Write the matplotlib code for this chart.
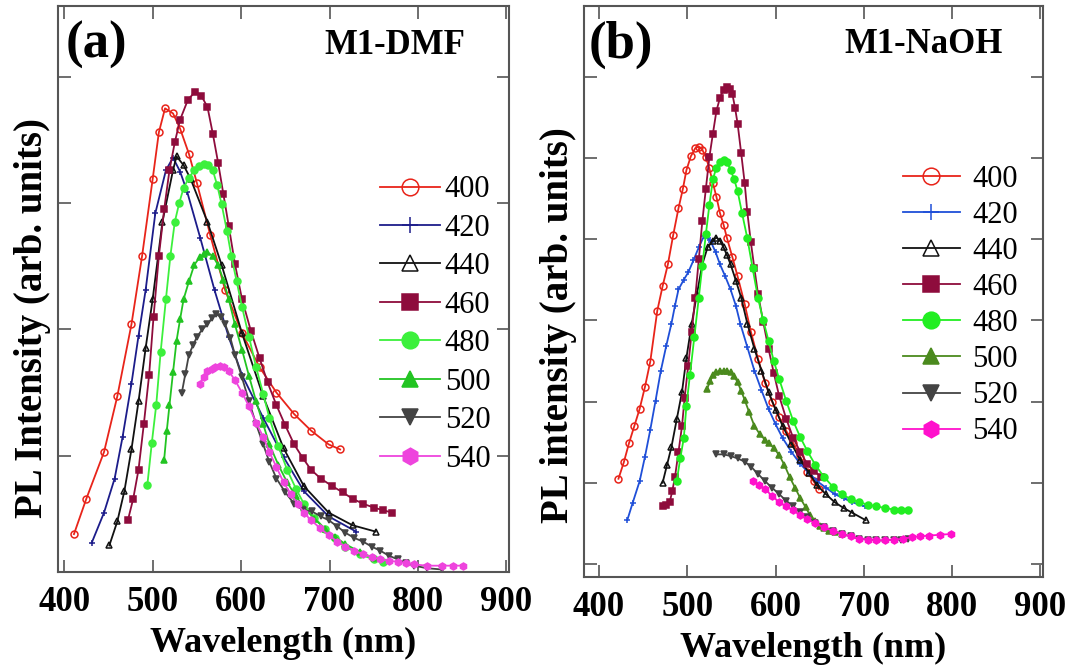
import matplotlib
matplotlib.use("Agg")
import matplotlib.pyplot as plt

plt.rcParams['font.family'] = ['Liberation Serif', 'DejaVu Serif']

# excitation wavelengths (legend labels)
labels = ['400', '420', '440', '460', '480', '500', '520', '540']

# ---- panel (a) M1-DMF ----
a_400_x = [411, 425, 445, 460, 476, 488, 500, 507, 514, 523, 531, 541, 550, 565, 582, 601, 621, 640, 660, 679, 699, 712]
a_400_y = [0.38, 0.66, 1.03, 1.47, 2.04, 2.58, 3.19, 3.56, 3.75, 3.71, 3.59, 3.39, 3.16, 2.75, 2.31, 1.97, 1.70, 1.50, 1.33, 1.20, 1.09, 1.05]
a_420_x = [431, 445, 457, 466, 476, 484, 492, 503, 515, 523, 531, 539, 554, 570, 586, 601, 625, 648, 671, 699, 730]
a_420_y = [0.31, 0.55, 0.82, 1.15, 1.57, 1.95, 2.31, 2.92, 3.26, 3.36, 3.25, 3.09, 2.72, 2.31, 1.94, 1.64, 1.30, 0.99, 0.72, 0.52, 0.40]
a_440_x = [451, 460, 468, 476, 484, 492, 500, 511, 523, 527, 535, 543, 562, 578, 601, 625, 648, 671, 699, 726, 752]
a_440_y = [0.29, 0.48, 0.72, 1.05, 1.43, 1.85, 2.24, 2.85, 3.26, 3.37, 3.30, 3.19, 2.85, 2.51, 1.97, 1.47, 1.06, 0.76, 0.55, 0.45, 0.40]
a_460_x = [472, 478, 484, 490, 496, 501, 507, 513, 519, 525, 531, 540, 548, 555, 562, 568, 574, 580, 586, 593, 601, 611, 621, 630, 640, 650, 660, 670, 679, 690, 703, 715, 726, 738, 750, 760, 771]
a_460_y = [0.49, 0.66, 0.89, 1.25, 1.64, 2.10, 2.58, 2.95, 3.26, 3.48, 3.66, 3.82, 3.88, 3.85, 3.76, 3.55, 3.32, 3.07, 2.82, 2.52, 2.24, 1.99, 1.77, 1.58, 1.40, 1.24, 1.09, 0.98, 0.89, 0.82, 0.76, 0.71, 0.66, 0.62, 0.59, 0.57, 0.55]
a_480_x = [494, 499, 504, 509, 515, 520, 525, 530, 535, 541, 547, 552, 558, 563, 568, 573, 578, 584, 589, 595, 601, 609, 617, 625, 632, 642, 652, 662, 671, 683, 695, 706, 718, 734, 750, 760]
a_480_y = [0.77, 1.10, 1.40, 1.82, 2.24, 2.58, 2.85, 3.00, 3.12, 3.20, 3.26, 3.29, 3.31, 3.30, 3.26, 3.14, 2.99, 2.78, 2.58, 2.38, 2.18, 1.94, 1.70, 1.49, 1.30, 1.08, 0.89, 0.74, 0.62, 0.51, 0.42, 0.35, 0.28, 0.22, 0.18, 0.16]
a_500_x = [513, 516, 519, 523, 527, 531, 535, 541, 547, 553, 558, 562, 568, 574, 580, 586, 593, 601, 609, 617, 625, 632, 642, 652, 662, 671, 683, 695, 706, 718, 734, 750]
a_500_y = [0.97, 1.20, 1.40, 1.66, 1.91, 2.08, 2.24, 2.38, 2.51, 2.57, 2.60, 2.61, 2.58, 2.51, 2.39, 2.24, 2.04, 1.84, 1.63, 1.43, 1.25, 1.09, 0.93, 0.79, 0.68, 0.59, 0.50, 0.42, 0.36, 0.30, 0.24, 0.19]
a_520_x = [533, 537, 541, 546, 550, 556, 562, 567, 572, 577, 582, 588, 593, 601, 609, 617, 625, 632, 640, 650, 660, 670, 680, 690, 699, 709, 718, 728, 738, 748, 757, 767, 777, 786, 796, 810, 827]
a_520_y = [1.50, 1.65, 1.80, 1.88, 1.94, 2.00, 2.04, 2.09, 2.12, 2.10, 2.04, 1.93, 1.80, 1.62, 1.43, 1.25, 1.09, 0.95, 0.82, 0.71, 0.62, 0.57, 0.56, 0.52, 0.49, 0.44, 0.39, 0.35, 0.32, 0.28, 0.25, 0.21, 0.18, 0.15, 0.13, 0.11, 0.10]
a_540_x = [553, 558, 562, 567, 571, 576, 581, 586, 593, 601, 609, 617, 625, 632, 640, 648, 656, 664, 671, 679, 689, 699, 709, 718, 728, 738, 748, 757, 767, 777, 786, 796, 810, 827, 840, 851]
a_540_y = [1.57, 1.62, 1.67, 1.69, 1.70, 1.71, 1.70, 1.67, 1.60, 1.50, 1.39, 1.26, 1.15, 1.03, 0.91, 0.79, 0.70, 0.62, 0.55, 0.49, 0.43, 0.37, 0.32, 0.28, 0.25, 0.22, 0.20, 0.18, 0.17, 0.16, 0.15, 0.14, 0.13, 0.13, 0.13, 0.13]

# ---- panel (b) M1-NaOH ----
b_400_x = [422, 428, 434, 440, 446, 452, 458, 466, 472, 478, 484, 490, 495, 499, 504, 509, 513, 517, 521, 525, 529, 533, 537, 541, 545, 551, 557, 565, 572, 580, 588, 596, 604, 612, 620, 628, 636, 643, 649]
b_400_y = [1.05, 1.25, 1.49, 1.70, 1.91, 2.18, 2.49, 3.12, 3.42, 3.69, 4.05, 4.38, 4.62, 4.85, 5.02, 5.12, 5.14, 5.10, 5.01, 4.87, 4.69, 4.52, 4.32, 4.18, 4.01, 3.78, 3.54, 3.20, 2.86, 2.53, 2.23, 2.00, 1.81, 1.64, 1.49, 1.32, 1.13, 1.02, 0.92]
b_420_x = [432, 438, 446, 452, 458, 464, 470, 476, 482, 486, 490, 496, 501, 507, 513, 519, 523, 527, 532, 537, 543, 549, 555, 560, 568, 576, 584, 592, 600, 608, 618, 628, 638, 647, 657, 667, 677, 687, 701]
b_420_y = [0.54, 0.75, 1.02, 1.32, 1.65, 2.01, 2.38, 2.68, 2.96, 3.18, 3.38, 3.50, 3.59, 3.74, 3.90, 4.04, 4.02, 3.96, 3.84, 3.69, 3.54, 3.38, 3.18, 2.96, 2.67, 2.38, 2.14, 1.91, 1.72, 1.55, 1.38, 1.23, 1.12, 1.02, 0.94, 0.86, 0.81, 0.76, 0.71]
b_440_x = [472, 477, 482, 488, 494, 499, 505, 511, 517, 523, 529, 533, 537, 541, 545, 549, 555, 561, 568, 576, 584, 592, 600, 608, 618, 628, 638, 647, 657, 667, 677, 687, 702]
b_440_y = [1.00, 1.22, 1.44, 1.78, 2.12, 2.54, 2.96, 3.33, 3.69, 3.90, 3.98, 4.02, 3.98, 3.90, 3.80, 3.69, 3.49, 3.28, 2.96, 2.65, 2.38, 2.12, 1.90, 1.70, 1.48, 1.28, 1.12, 0.97, 0.86, 0.76, 0.69, 0.63, 0.54]
b_460_x = [472, 476, 480, 483, 486, 490, 494, 497, 501, 505, 509, 513, 517, 521, 525, 529, 533, 537, 541, 545, 548, 551, 554, 557, 561, 565, 568, 572, 576, 580, 586, 592, 598, 604, 612, 620, 628, 636, 644, 652]
b_460_y = [0.71, 0.73, 0.76, 0.90, 1.07, 1.38, 1.70, 2.05, 2.44, 2.86, 3.28, 3.75, 4.22, 4.62, 5.01, 5.30, 5.58, 5.74, 5.84, 5.87, 5.85, 5.79, 5.62, 5.42, 5.06, 4.69, 4.33, 3.96, 3.64, 3.33, 2.98, 2.65, 2.35, 2.07, 1.79, 1.55, 1.38, 1.23, 1.14, 1.07]
b_480_x = [488, 492, 496, 499, 503, 508, 513, 517, 521, 525, 529, 533, 537, 541, 545, 549, 553, 557, 562, 568, 574, 580, 586, 592, 598, 604, 612, 620, 628, 636, 645, 655, 665, 675, 685, 695, 705, 714, 724, 734, 742, 750]
b_480_y = [1.02, 1.30, 1.55, 1.95, 2.33, 2.80, 3.28, 3.67, 4.06, 4.42, 4.74, 4.88, 4.95, 4.98, 4.95, 4.85, 4.74, 4.59, 4.32, 4.01, 3.64, 3.28, 3.00, 2.75, 2.50, 2.28, 2.01, 1.76, 1.56, 1.39, 1.22, 1.07, 0.95, 0.86, 0.80, 0.76, 0.73, 0.71, 0.69, 0.67, 0.66, 0.66]
b_500_x = [522, 526, 529, 533, 537, 541, 545, 549, 553, 557, 561, 565, 570, 576, 582, 588, 592, 598, 604, 610, 616, 622, 628, 634, 639, 645, 650, 655, 661, 667, 675]
b_500_y = [2.15, 2.25, 2.33, 2.36, 2.38, 2.38, 2.38, 2.36, 2.31, 2.24, 2.13, 2.02, 1.87, 1.70, 1.60, 1.53, 1.49, 1.43, 1.34, 1.22, 1.07, 0.94, 0.81, 0.70, 0.60, 0.53, 0.47, 0.44, 0.41, 0.39, 0.37]
b_520_x = [533, 541, 549, 557, 565, 572, 580, 588, 596, 604, 612, 620, 628, 636, 645, 655, 665, 675, 685, 695, 705, 714, 724, 734, 742, 750]
b_520_y = [1.35, 1.35, 1.33, 1.30, 1.26, 1.20, 1.11, 1.02, 0.94, 0.86, 0.78, 0.71, 0.64, 0.58, 0.51, 0.45, 0.41, 0.37, 0.34, 0.31, 0.30, 0.29, 0.29, 0.30, 0.30, 0.31]
b_540_x = [574, 581, 588, 596, 604, 612, 620, 628, 636, 645, 655, 665, 675, 685, 695, 705, 714, 724, 734, 744, 754, 764, 774, 786, 799]
b_540_y = [1.02, 0.97, 0.92, 0.84, 0.76, 0.71, 0.66, 0.60, 0.55, 0.50, 0.45, 0.41, 0.37, 0.34, 0.31, 0.30, 0.29, 0.29, 0.30, 0.31, 0.33, 0.34, 0.35, 0.36, 0.37]

data_a = [(a_400_x, a_400_y), (a_420_x, a_420_y), (a_440_x, a_440_y), (a_460_x, a_460_y),
          (a_480_x, a_480_y), (a_500_x, a_500_y), (a_520_x, a_520_y), (a_540_x, a_540_y)]
data_b = [(b_400_x, b_400_y), (b_420_x, b_420_y), (b_440_x, b_440_y), (b_460_x, b_460_y),
          (b_480_x, b_480_y), (b_500_x, b_500_y), (b_520_x, b_520_y), (b_540_x, b_540_y)]

markers = ['o', '+', '^', 's', 'o', '^', 'v', 'h']
filled = [False, True, False, True, True, True, True, True]
colors_a = ['#e8241a', '#1c1c8a', '#111111', '#8e0c3c', '#3cf03c', '#22c422', '#444444', '#ee44dd']
colors_b = ['#e8241a', '#1f4fd8', '#111111', '#8e0c3c', '#22ee22', '#4b8a1e', '#444444', '#ff10cc']

fig = plt.figure(figsize=(10.73, 6.69), dpi=100)
ax_a = fig.add_axes([0.0541, 0.145, 0.4203, 0.846])
ax_b = fig.add_axes([0.5443, 0.1375, 0.4278, 0.8535])


def draw(ax, data, colors):
    for (x, y), lab, m, f, c in zip(data, labels, markers, filled, colors):
        fc = c if f else 'none'
        ax.plot(x, y, color=c, lw=1.3, marker=m, ms=5, mfc=fc, mec=c, mew=1.1, label=lab)


draw(ax_a, data_a, colors_a)
draw(ax_b, data_b, colors_b)

ax_a.set_xlim(393, 903)
ax_a.set_ylim(0.08, 4.56)
ax_a.set_yticks([1, 2, 3, 4])
ax_b.set_xlim(383, 903)
ax_b.set_ylim(-0.16, 6.87)
ax_b.set_yticks([0, 1, 2, 3, 4, 5, 6])

for ax in (ax_a, ax_b):
    ax.set_xticks([400, 500, 600, 700, 800, 900])
    ax.tick_params(direction='in', top=True, right=True, length=9, width=1.2,
                   color='#555555', labelsize=25, pad=10)
    ax.set_yticklabels([])
    for lbl in ax.get_xticklabels():
        lbl.set_fontweight('bold')
    for s in ax.spines.values():
        s.set_color('#555555')
        s.set_linewidth(1.5)
    ax.set_xlabel('Wavelength (nm)', fontsize=26, fontweight='bold', labelpad=6)

ax_a.set_ylabel('PL Intensity (arb. units)', fontsize=28, fontweight='bold')
ax_b.set_ylabel('PL intensity (arb. units)', fontsize=28, fontweight='bold')
ax_a.yaxis.set_label_coords(-0.016, 0.449)
ax_b.yaxis.set_label_coords(-0.015, 0.441)

ax_a.text(0.086, 0.931, '(a)', transform=ax_a.transAxes, ha='center', va='center',
          fontsize=38, fontweight='bold')
ax_a.text(0.747, 0.931, 'M1-DMF', transform=ax_a.transAxes, ha='center', va='center',
          fontsize=25, fontweight='bold')
ax_b.text(0.081, 0.932, '(b)', transform=ax_b.transAxes, ha='center', va='center',
          fontsize=38, fontweight='bold')
ax_b.text(0.739, 0.932, 'M1-NaOH', transform=ax_b.transAxes, ha='center', va='center',
          fontsize=25, fontweight='bold')

ax_a.legend(loc='upper left', bbox_to_anchor=(0.714, 0.701), frameon=False, fontsize=22,
            markerscale=2.4, handlelength=1.96, handletextpad=0.16, labelspacing=0.31,
            borderpad=0, borderaxespad=0)
ax_b.legend(loc='upper left', bbox_to_anchor=(0.695, 0.7215), frameon=False, fontsize=22,
            markerscale=2.4, handlelength=1.86, handletextpad=0.4, labelspacing=0.23,
            borderpad=0, borderaxespad=0)

fig.savefig('out.png', dpi=100)
